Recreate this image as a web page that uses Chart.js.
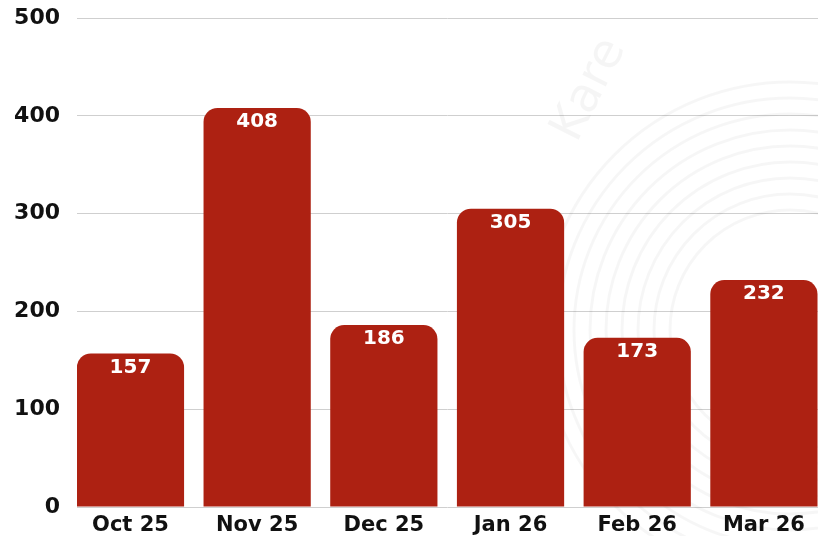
<!DOCTYPE html>
<html>
<head>
<meta charset="utf-8">
<script src="https://cdn.jsdelivr.net/npm/chart.js@4"></script>
<style>
  html, body { margin: 0; padding: 0; background: #ffffff; }
  #wrap { width: 818px; height: 536px; }
</style>
</head>
<body>
<div id="wrap"><canvas id="monthlyChart"></canvas></div>
<script>
// chart data
const months = ['Oct 25', 'Nov 25', 'Dec 25', 'Jan 26', 'Feb 26', 'Mar 26'];
const counts = [157, 408, 186, 305, 173, 232];
const yTicks = [0, 100, 200, 300, 400, 500];

const barRed = '#ad2112';
const labelFont = "'DejaVu Sans', sans-serif";

// faint watermark behind the bars
const watermark = {
    id: 'watermark',
    beforeDatasetsDraw(chart) {
        const ctx = chart.ctx;
        ctx.save();
        ctx.strokeStyle = 'rgba(0,0,0,0.035)';
        ctx.lineWidth = 3;
        for (let r = 120; r <= 250; r += 16) { // rings of the logo
            ctx.beginPath();
            ctx.arc(790, 330, r, 0, Math.PI * 2);
            ctx.stroke();
        }
        ctx.translate(590, 90);
        ctx.rotate(-1.1);
        ctx.fillStyle = 'rgba(0,0,0,0.04)';
        ctx.font = "48px " + labelFont;
        ctx.textAlign = 'center';
        ctx.textBaseline = 'middle';
        ctx.fillText('Kare', 0, 0);
        ctx.restore();
    }
};

// white value at the top of each bar
const barValues = {
    id: 'barValues',
    afterDatasetsDraw(chart) {
        const ctx = chart.ctx;
        const meta = chart.getDatasetMeta(0);
        ctx.save();
        ctx.fillStyle = '#ffffff';
        ctx.font = "bold 20px " + labelFont;
        ctx.textAlign = 'center';
        ctx.textBaseline = 'top';
        meta.data.forEach((bar, i) => {
            ctx.fillText(String(counts[i]), bar.x, bar.y + 4);
        });
        ctx.restore();
    }
};

document.addEventListener('DOMContentLoaded', () => {
    const ctx = document.getElementById('monthlyChart').getContext('2d');
    new Chart(ctx, {
        type: 'bar',
        data: {
            datasets: [{
                data: months.map((m, i) => ({ x: i, y: counts[i] })),
                backgroundColor: barRed,
                borderRadius: 14,
                borderSkipped: 'start',
                barPercentage: 0.92,
                categoryPercentage: 0.92
            }]
        },
        options: {
            responsive: true,
            maintainAspectRatio: false,
            animation: false,
            layout: { padding: { top: 18, right: 0, left: 0, bottom: 0 } },
            plugins: {
                legend: { display: false },
                tooltip: { enabled: false }
            },
            scales: {
                x: {
                    type: 'linear',
                    offset: false,
                    min: -0.422,
                    max: 5.427,
                    grid: { display: false, drawTicks: false, offset: false },
                    border: { display: false },
                    afterFit: (scale) => {
                        scale.height = 29;
                        scale.paddingLeft = 0;
                        scale.paddingRight = 0;
                        scale.paddingTop = 0;
                        scale.paddingBottom = 0;
                    },
                    afterBuildTicks: (scale) => {
                        scale.ticks = months.map((m, i) => ({ value: i }));
                    },
                    ticks: {
                        autoSkip: false,
                        maxRotation: 0,
                        padding: 6,
                        color: '#111111',
                        font: { family: labelFont, size: 21, weight: 'bold' },
                        callback: (v) => months[v] ?? ''
                    }
                },
                y: {
                    min: 0,
                    max: 500,
                    grid: { color: '#cfcfcf', lineWidth: 1, drawTicks: false },
                    border: { display: false },
                    afterFit: (scale) => {
                        scale.width = 77;
                        scale.paddingTop = 0;
                        scale.paddingBottom = 0;
                    },
                    afterBuildTicks: (scale) => {
                        scale.ticks = yTicks.map(v => ({ value: v }));
                    },
                    ticks: {
                        padding: 17,
                        color: '#111111',
                        font: { family: labelFont, size: 22, weight: 'bold' }
                    }
                }
            }
        },
        plugins: [watermark, barValues]
    });
});
</script>
</body>
</html>
